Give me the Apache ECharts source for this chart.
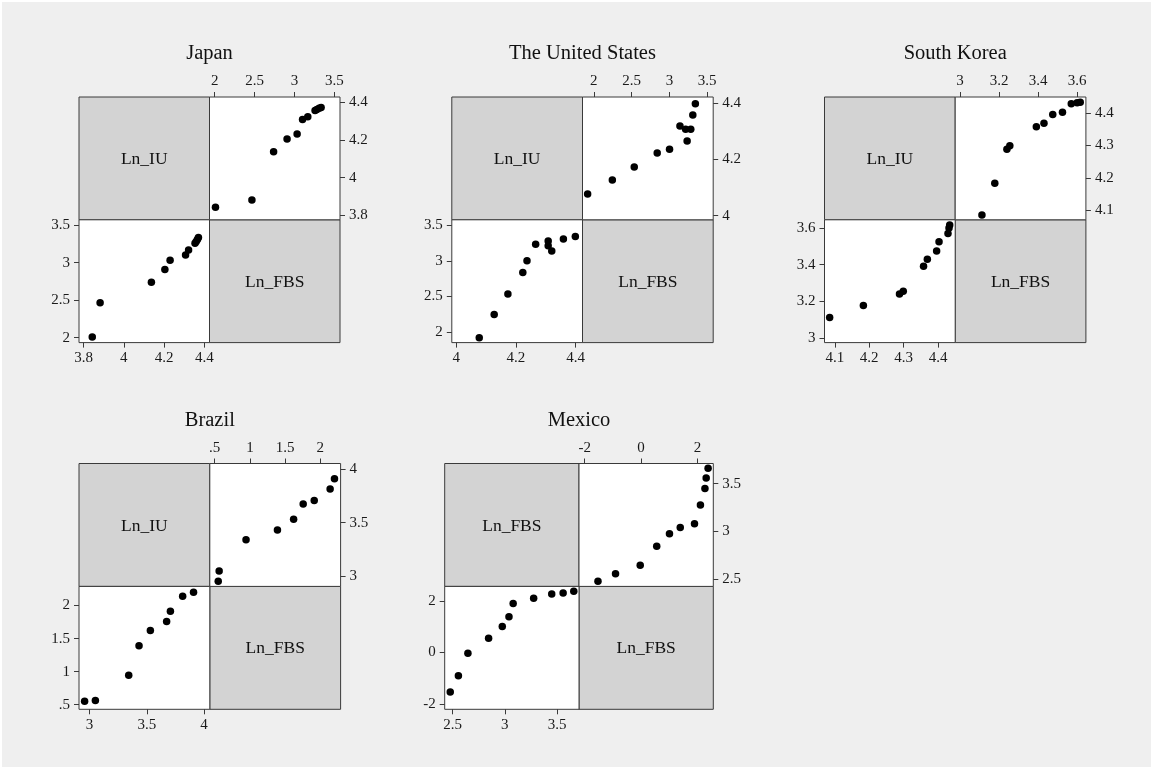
<!DOCTYPE html>
<html><head><meta charset="utf-8">
<script src="https://cdn.jsdelivr.net/npm/echarts@6/dist/echarts.min.js"></script>
<style>
html,body{margin:0;padding:0;background:#fff;}
#bg{position:absolute;left:2px;top:2px;width:1149px;height:765px;background:#efefef;}
#c{position:absolute;left:0;top:0;width:1155px;height:771px;}
</style>
</head><body><div id="bg"></div><div id="c"></div>
<script>
// ---- data ----
const countries = ['Japan', 'The United States', 'South Korea', 'Brazil', 'Mexico'];
const varNames = [['Ln_IU', 'Ln_FBS'], ['Ln_IU', 'Ln_FBS'], ['Ln_IU', 'Ln_FBS'], ['Ln_IU', 'Ln_FBS'], ['Ln_FBS', 'Ln_FBS']];

const japanIU  = [3.843, 3.882, 4.137, 4.204, 4.230, 4.307, 4.322, 4.354, 4.360, 4.366, 4.371];
const japanFBS = [2.010, 2.467, 2.739, 2.908, 3.034, 3.102, 3.168, 3.259, 3.282, 3.310, 3.335];

const usIU  = [4.077, 4.127, 4.173, 4.223, 4.237, 4.320, 4.308, 4.266, 4.308, 4.359, 4.399];
const usFBS = [1.918, 2.245, 2.535, 2.839, 3.002, 3.140, 3.215, 3.235, 3.283, 3.310, 3.344];

const koreaIU  = [4.085, 4.183, 4.288, 4.299, 4.358, 4.369, 4.396, 4.403, 4.429, 4.432, 4.434];
const koreaFBS = [3.112, 3.178, 3.240, 3.255, 3.391, 3.430, 3.475, 3.525, 3.570, 3.600, 3.616];

const brazilIU  = [2.957, 3.051, 3.342, 3.432, 3.531, 3.673, 3.706, 3.813, 3.908];
const brazilFBS = [0.550, 0.563, 0.945, 1.392, 1.622, 1.758, 1.915, 2.141, 2.203];

const mexicoVar1 = [2.478, 2.556, 2.647, 2.845, 2.976, 3.040, 3.080, 3.276, 3.449, 3.558, 3.660];
const mexicoVar2 = [-1.527, -0.904, -0.028, 0.558, 1.010, 1.392, 1.898, 2.108, 2.268, 2.312, 2.380];

const var1Values = [japanIU, usIU, koreaIU, brazilIU, mexicoVar1];
const var2Values = [japanFBS, usFBS, koreaFBS, brazilFBS, mexicoVar2];

// tick labels
const var1Ticks = [[3.8, 4, 4.2, 4.4], [4, 4.2, 4.4], [4.1, 4.2, 4.3, 4.4], [3, 3.5, 4], [2.5, 3, 3.5]];
const var2Ticks = [[2, 2.5, 3, 3.5], [2, 2.5, 3, 3.5], [3, 3.2, 3.4, 3.6], [0.5, 1, 1.5, 2], [-2, 0, 2]];

// axis ranges
const var1Range = [[3.777, 4.426], [3.985, 4.423], [4.07, 4.45], [2.908, 4.05], [2.425, 3.71]];
const var2Range = [[1.935, 3.572], [1.85, 3.58], [2.975, 3.645], [0.43, 2.29], [-2.2, 2.565]];

// ---- layout ----
const layout = [
  {left: 79,    top: 97,    w: 130.5, h: 122.8, titleY: 54},
  {left: 451.8, top: 97,    w: 130.7, h: 122.8, titleY: 54},
  {left: 824.5, top: 97,    w: 130.7, h: 122.8, titleY: 54},
  {left: 79,    top: 463.5, w: 130.8, h: 122.9, titleY: 421},
  {left: 444.7, top: 463.5, w: 134.3, h: 122.9, titleY: 421}
];

const FONT = 'Liberation Serif';
const BORDER = '#3a3a3a';
const fmt = v => {
  let s = String(Math.round(v * 1000) / 1000);
  return s.replace(/^0\./, '.').replace(/^-0\./, '-.');
};

const grids = [], xAxes = [], yAxes = [], series = [], graphics = [];

function addGrid(l, t, w, h, bg) {
  grids.push({left: l, top: t, width: w, height: h, show: true, backgroundColor: bg,
    borderColor: BORDER, borderWidth: 1, containLabel: false, outerBoundsMode: 'none'});
  return grids.length - 1;
}
function hiddenAxes(gi) {
  xAxes.push({type: 'value', gridIndex: gi, show: false, min: 0, max: 1});
  yAxes.push({type: 'value', gridIndex: gi, show: false, min: 0, max: 1});
}
function axisCfg(gi, pos, range, ticks, isY) {
  return {
    type: 'value', gridIndex: gi, position: pos, min: range[0], max: range[1],
    axisLine: {show: false, onZero: false},
    axisTick: {show: true, inside: false, length: 5, customValues: ticks,
      lineStyle: {color: BORDER, width: 1}},
    axisLabel: {show: true, customValues: ticks, formatter: fmt, fontFamily: FONT,
      fontSize: 15, color: '#1a1a1a', margin: isY ? 9 : 8,
      showMinLabel: true, showMaxLabel: true},
    splitLine: {show: false}
  };
}

layout.forEach((L, p) => {
  const v1 = var1Values[p], v2 = var2Values[p];
  const g0 = addGrid(L.left, L.top, L.w, L.h, '#d3d3d3');
  hiddenAxes(g0);
  const g3 = addGrid(L.left + L.w, L.top + L.h, L.w, L.h, '#d3d3d3');
  hiddenAxes(g3);
  // top-right scatter: x = var2, y = var1
  const g1 = addGrid(L.left + L.w, L.top, L.w, L.h, '#fff');
  xAxes.push(axisCfg(g1, 'top', var2Range[p], var2Ticks[p], false));
  yAxes.push(axisCfg(g1, 'right', var1Range[p], var1Ticks[p], true));
  series.push({type: 'scatter', xAxisIndex: xAxes.length - 1, yAxisIndex: yAxes.length - 1,
    data: v2.map((x, i) => [x, v1[i]]), symbolSize: 7.5,
    itemStyle: {color: '#000', opacity: 1}, silent: true});
  // bottom-left scatter: x = var1, y = var2
  const g2 = addGrid(L.left, L.top + L.h, L.w, L.h, '#fff');
  xAxes.push(axisCfg(g2, 'bottom', var1Range[p], var1Ticks[p], false));
  yAxes.push(axisCfg(g2, 'left', var2Range[p], var2Ticks[p], true));
  series.push({type: 'scatter', xAxisIndex: xAxes.length - 1, yAxisIndex: yAxes.length - 1,
    data: v1.map((x, i) => [x, v2[i]]), symbolSize: 7.5,
    itemStyle: {color: '#000', opacity: 1}, silent: true});

  graphics.push({type: 'text', x: L.left + L.w / 2, y: L.top + L.h / 2 + 1, z: 100,
    style: {text: varNames[p][0], font: '17.5px "' + FONT + '"', fill: '#111',
      textAlign: 'center', textVerticalAlign: 'middle'}});
  graphics.push({type: 'text', x: L.left + L.w * 1.5, y: L.top + L.h * 1.5 + 1, z: 100,
    style: {text: varNames[p][1], font: '17.5px "' + FONT + '"', fill: '#111',
      textAlign: 'center', textVerticalAlign: 'middle'}});
  graphics.push({type: 'text', x: L.left + L.w, y: L.titleY, z: 100,
    style: {text: countries[p], font: '20.5px "' + FONT + '"', fill: '#111',
      textAlign: 'center', textVerticalAlign: 'middle'}});
});

const chart = echarts.init(document.getElementById('c'), null, {renderer: 'canvas'});
chart.setOption({
  backgroundColor: 'transparent',
  animation: false,
  grid: grids, xAxis: xAxes, yAxis: yAxes, series: series,
  graphic: {elements: graphics}
});
</script>
</body></html>
